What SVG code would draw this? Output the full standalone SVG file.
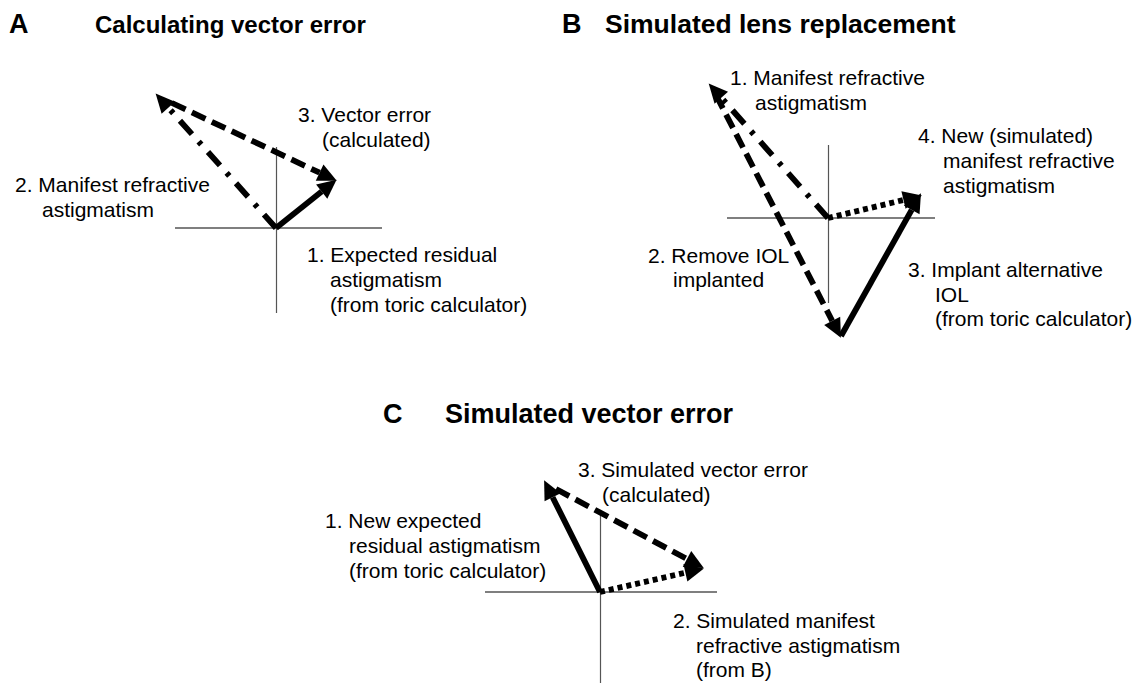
<svg xmlns="http://www.w3.org/2000/svg" width="1141" height="683" viewBox="0 0 1141 683">
<style>
text{font-family:"Liberation Sans",Arial,sans-serif;fill:#000}
.t{font-weight:bold}
.l{font-size:21px}
.ax{stroke:#000;stroke-width:1.2;fill:none}
.axv{stroke:#555;stroke-width:1.2;fill:none}
.a{fill:none;stroke:#000;stroke-width:5.8;marker-end:url(#h)}
.dash{stroke-dasharray:15 7}
.dd{stroke-dasharray:18 10 4 10}
.dot{stroke-dasharray:5 4}
</style>
<defs>
<marker id="h" markerUnits="userSpaceOnUse" markerWidth="22" markerHeight="20" refX="0" refY="9" orient="auto" overflow="visible">
<path d="M0,0 L19,9 L0,18 z" fill="#000"/>
</marker>
</defs>
<rect width="1141" height="683" fill="#fff"/>
<g id="titles">
<text class="t" x="9" y="33" font-size="27">A</text>
<text class="t" x="95" y="33" font-size="24">Calculating vector error</text>
<text class="t" x="562" y="33" font-size="27">B</text>
<text class="t" x="605" y="33" font-size="26.5">Simulated lens replacement</text>
<text class="t" x="383" y="423" font-size="27">C</text>
<text class="t" x="445" y="423" font-size="27">Simulated vector error</text>
</g>
<g id="axes">
<line class="ax" x1="175" y1="228" x2="382" y2="228"/>
<line class="axv" x1="276.5" y1="147" x2="276.5" y2="313"/>
<line class="ax" x1="727" y1="218" x2="935" y2="218"/>
<line class="axv" x1="828.5" y1="145" x2="828.5" y2="303"/>
<line class="ax" x1="485" y1="592" x2="717" y2="592" stroke-width="2"/>
<line class="axv" x1="600.5" y1="510" x2="600.5" y2="683"/>
</g>
<g id="connectors">
<line class="a" x1="276" y1="228" x2="321.7" y2="191.6"/>
<line class="a dd" x1="276" y1="228" x2="168.3" y2="107.7"/>
<line class="a dash" x1="172" y1="103" x2="319.6" y2="172.7"/>
<line class="a dd" x1="828" y1="218" x2="721.3" y2="97.7"/>
<line class="a dash" x1="716" y1="95" x2="832.2" y2="320.9"/>
<line class="a" x1="841" y1="336" x2="911.7" y2="209.8"/>
<line class="a dot" x1="828" y1="218" x2="903.5" y2="200"/>
<line class="a" x1="600" y1="592" x2="552.6" y2="497.2"/>
<line class="a dash" x1="556" y1="489" x2="687" y2="559"/>
<line class="a dot" x1="600" y1="592" x2="685.4" y2="572.7"/>
</g>
<g id="labelA3"><text class="l" x="298" y="122">3. Vector error</text><text class="l" x="322" y="147">(calculated)</text></g>
<g id="labelA2"><text class="l" x="15" y="192">2. Manifest refractive</text><text class="l" x="42" y="217">astigmatism</text></g>
<g id="labelA1"><text class="l" x="307" y="262">1. Expected residual</text><text class="l" x="330" y="287">astigmatism</text><text class="l" x="330" y="312">(from toric calculator)</text></g>
<g id="labelB1"><text class="l" x="730" y="85">1. Manifest refractive</text><text class="l" x="755" y="110">astigmatism</text></g>
<g id="labelB4"><text class="l" x="918" y="143">4. New (simulated)</text><text class="l" x="943" y="168">manifest refractive</text><text class="l" x="943" y="193">astigmatism</text></g>
<g id="labelB2"><text class="l" x="648" y="263">2. Remove IOL</text><text class="l" x="673" y="287">implanted</text></g>
<g id="labelB3"><text class="l" x="908" y="277">3. Implant alternative</text><text class="l" x="935" y="302">IOL</text><text class="l" x="935" y="326">(from toric calculator)</text></g>
<g id="labelC3"><text class="l" x="578" y="477">3. Simulated vector error</text><text class="l" x="602" y="502">(calculated)</text></g>
<g id="labelC1"><text class="l" x="325" y="528">1. New expected</text><text class="l" x="349" y="553">residual astigmatism</text><text class="l" x="349" y="578">(from toric calculator)</text></g>
<g id="labelC2"><text class="l" x="673" y="628">2. Simulated manifest</text><text class="l" x="696" y="653">refractive astigmatism</text><text class="l" x="696" y="677">(from B)</text></g>
</svg>
